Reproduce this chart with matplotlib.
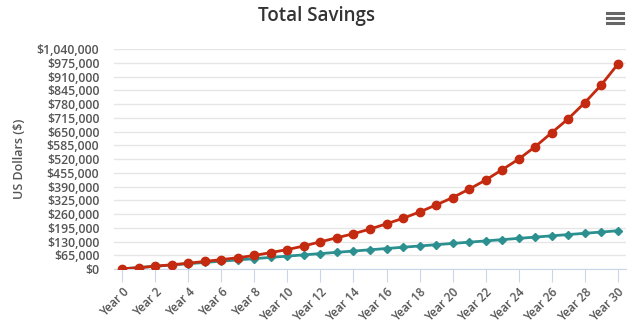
import matplotlib
matplotlib.use("Agg")
import matplotlib.pyplot as plt
from matplotlib.lines import Line2D
from matplotlib.ticker import FuncFormatter, MultipleLocator

plt.rcParams['font.family'] = ['Open Sans', 'DejaVu Sans']

# values
years = list(range(31))
year_labels = [f"Year {y}" for y in years]
savings_growth = [1000, 6000, 13500, 20000, 27500, 36000, 44500, 53500, 64000, 78000,
                  92000, 109000, 129000, 148000, 167000, 189000, 214000, 240000, 270000, 303000,
                  338000, 378000, 421000, 470000, 520000, 579000, 645000, 711000, 787000, 871000,
                  969000]
contributions = [1000, 7000, 13000, 19000, 25000, 31000, 37000, 43000, 49000, 55000,
                 61000, 67000, 73000, 79000, 85000, 91000, 97000, 103000, 109000, 115000,
                 121000, 127000, 133000, 139000, 145000, 151000, 157000, 163000, 169000, 175000,
                 181000]

red = '#c42a10'
teal = '#2b908f'

fig = plt.figure(figsize=(6.34, 3.28), dpi=100)
ax = fig.add_axes([114/634, 1 - 269/328, 512/634, (269 - 49.3)/328])

ax.plot(years, savings_growth, color=red, lw=2, marker='o', ms=6, zorder=4)
ax.plot(years, contributions, color=teal, lw=2, marker='D', ms=4.5, zorder=3)

ax.set_xlim(-0.5, 30.5)
ax.set_ylim(0, 1040000)
ax.yaxis.set_major_locator(MultipleLocator(65000))
ax.yaxis.set_major_formatter(FuncFormatter(lambda v, p: f"${v:,.0f}"))
ax.grid(axis='y', color='#e6e6e6', lw=1)
ax.set_axisbelow(True)

ax.set_xticks(years[::2])
ax.set_xticklabels(year_labels[::2], rotation=45, ha='right', rotation_mode='anchor',
                   fontsize=8.5, color='#555555', fontweight='semibold')
ax.tick_params(axis='x', length=9, color='#ccd6eb', pad=3)
ax.tick_params(axis='y', length=0, labelsize=8.8, labelcolor='#555555', pad=10.5)
for lab in ax.get_yticklabels():
    lab.set_fontweight('semibold')

for s in ['top', 'right', 'left']:
    ax.spines[s].set_visible(False)
ax.spines['bottom'].set_color('#ccd6eb')

ax.set_ylabel('US Dollars ($)', fontsize=9, color='#555555', fontweight='semibold')
ax.yaxis.set_label_coords((26 - 114)/512, 0.5)

fig.text(0.5, 1 - 16/328, 'Total Savings', ha='center', va='center',
         fontsize=13.5, color='#333333', fontweight='semibold')

# context menu icon
for yy in [13.3, 18.2, 23.2]:
    fig.add_artist(Line2D([607/634, 623/634], [1 - yy/328] * 2, color='#666666',
                          lw=2.2, transform=fig.transFigure))

fig.savefig('out.png', dpi=100)
